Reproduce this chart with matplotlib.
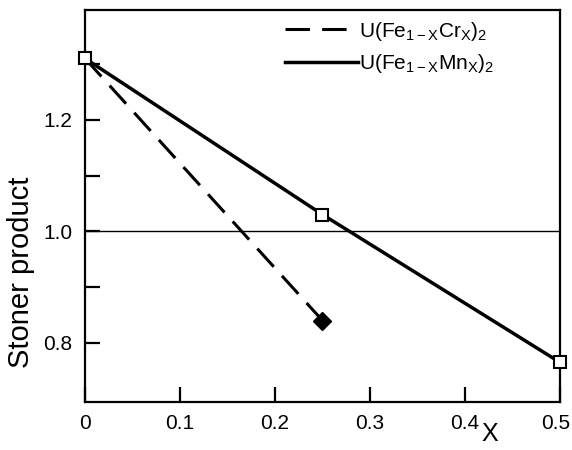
import matplotlib
matplotlib.use("Agg")
import matplotlib.pyplot as plt
import matplotlib.transforms as mtransforms

matplotlib.rcParams['font.family'] = ['Liberation Sans', 'DejaVu Sans']
matplotlib.rcParams['mathtext.default'] = 'regular'

# data
x_mn = [0.0, 0.25, 0.5]
y_mn = [1.31, 1.03, 0.765]
x_cr = [0.0, 0.25]
y_cr = [1.31, 0.84]
label_cr = 'U(Fe$_{1-X}$Cr$_X$)$_2$'
label_mn = 'U(Fe$_{1-X}$Mn$_X$)$_2$'
x_ticks = [0, 0.1, 0.2, 0.3, 0.4, 0.5]
x_ticklabels = ['0', '0.1', '0.2', '0.3', '0.4', '0.5']
y_ticks = [0.8, 0.9, 1.0, 1.1, 1.2, 1.3]
y_ticklabels = ['0.8', '', '1.0', '', '1.2', '']

fig = plt.figure(figsize=(5.72, 4.5), dpi=100)
ax = fig.add_axes([0.1486, 0.1067, 0.8304, 0.8713])

ax.axhline(1.0, color='black', linewidth=1.0, zorder=1)

ax.plot(x_cr, y_cr, color='black', linewidth=2.2, dashes=(8, 4), label=label_cr, zorder=2)
ax.plot(x_mn, y_mn, color='black', linewidth=2.5, label=label_mn, zorder=2)

# markers
ax.plot(x_cr[-1:], y_cr[-1:], linestyle='none', marker='D', markersize=9,
        color='black', zorder=3)
ax.plot(x_mn, y_mn, linestyle='none', marker='s', markersize=9,
        markerfacecolor='white', markeredgecolor='black', markeredgewidth=1.5,
        clip_on=False, zorder=4)

ax.set_xlim(0, 0.5)
ax.set_ylim(0.694, 1.397)
ax.set_xticks(x_ticks)
ax.set_xticklabels(x_ticklabels)
ax.set_yticks(y_ticks)
ax.set_yticklabels(y_ticklabels)
ax.tick_params(direction='in', length=11, width=1.6, labelsize=15, pad=9)

# keep the last x label inside the figure
lbl = ax.get_xticklabels()[-1]
lbl.set_transform(lbl.get_transform() +
                  mtransforms.ScaledTranslation(-4 / 100, 0, fig.dpi_scale_trans))

for s in ax.spines.values():
    s.set_linewidth(1.6)

ax.set_ylabel('Stoner product', fontsize=21)
ax.yaxis.set_label_coords(-0.105, 0.33)
ax.set_xlabel('X', fontsize=18)
ax.xaxis.set_label_coords(0.853, -0.05)

leg = ax.legend(loc='upper left', bbox_to_anchor=(0.421, 0.975), frameon=False,
                fontsize=15, handlelength=3.5, handletextpad=0.05,
                borderpad=0, borderaxespad=0, labelspacing=0.45)

plt.savefig('out.png', dpi=100)
